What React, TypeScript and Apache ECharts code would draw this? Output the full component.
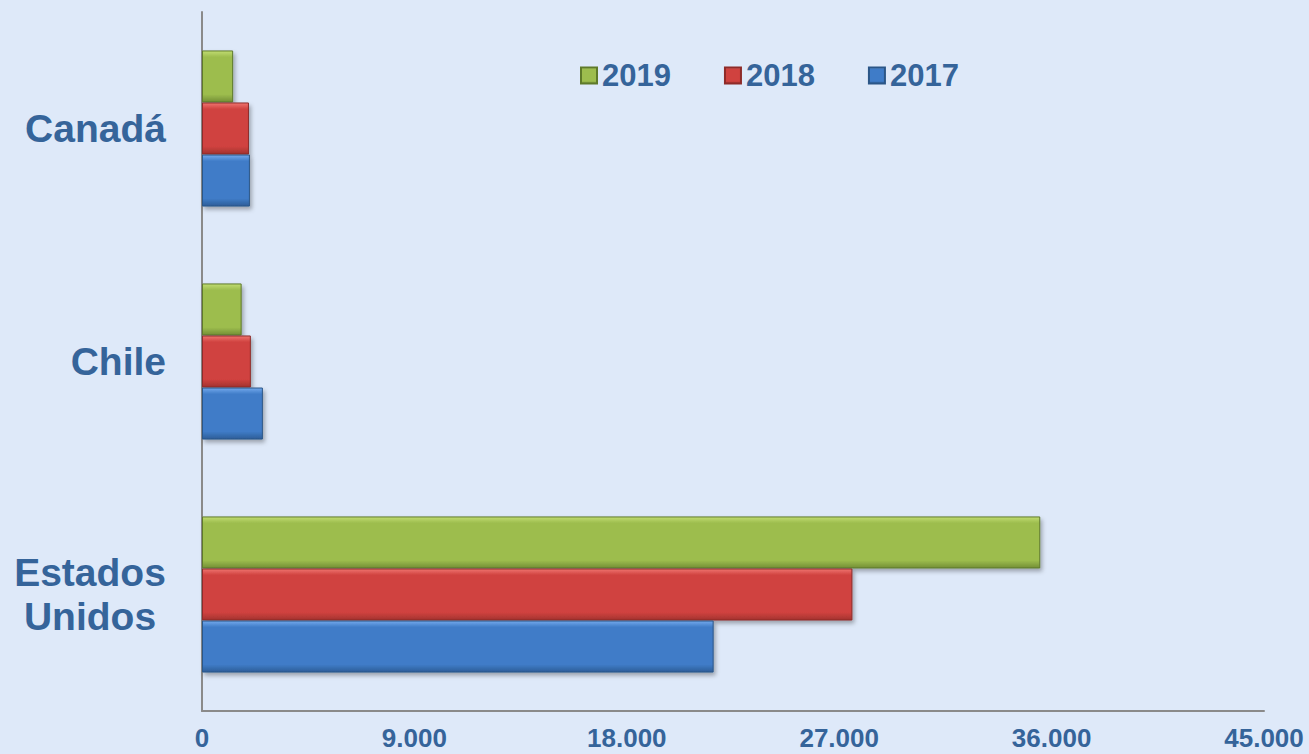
import React, { useEffect, useRef } from "react";
import * as echarts from "echarts";

const categories = ["Estados Unidos", "Chile", "Canadá"];
const seriesNames = ["2019", "2018", "2017"];
const values2019 = [35520, 1680, 1320];
const values2018 = [27560, 2070, 1990];
const values2017 = [21680, 2580, 2030];
const xTicks = { min: 0, max: 45000, interval: 9000 };
const legendOrder = ["2019", "2018", "2017"];

const textColor = "#35649A";

const grad = (top: string, mid: string, bot: string) =>
  new echarts.graphic.LinearGradient(0, 0, 0, 1, [
    { offset: 0, color: top },
    { offset: 0.12, color: mid },
    { offset: 0.85, color: mid },
    { offset: 1, color: bot },
  ]);

const styles = [
  { fill: grad("#c1dc72", "#9dbd4e", "#738f36"), border: "#5e7a2a" },
  { fill: grad("#ef7470", "#d0423f", "#a33330"), border: "#8e2b29" },
  { fill: grad("#73a9ec", "#3f7cc8", "#2e5e98"), border: "#2b5687" },
];

const seriesValues = [values2019, values2018, values2017];

export default function App() {
  const ref = useRef<HTMLDivElement>(null);
  useEffect(() => {
    if (!ref.current) return;
    const chart = echarts.init(ref.current, null, { renderer: "svg" });
    chart.setOption({
      animation: false,
      backgroundColor: "#DEE9F9",
      grid: { left: 202, right: 45, top: 12, bottom: 43, containLabel: false },
      legend: {
        data: legendOrder,
        left: 580,
        top: 60,
        padding: 0,
        itemWidth: 16,
        itemHeight: 16,
        itemGap: 53,
        icon: "rect",
        textStyle: {
          color: textColor,
          fontSize: 31,
          fontWeight: "bold",
          fontFamily: "Liberation Sans, Arial, sans-serif",
        },
      },
      xAxis: {
        type: "value",
        min: xTicks.min,
        max: xTicks.max,
        interval: xTicks.interval,
        splitLine: { show: false },
        axisTick: { show: false },
        axisLine: { show: true, lineStyle: { color: "#8a8a8a", width: 2 } },
        axisLabel: {
          margin: 14,
          color: textColor,
          fontSize: 26,
          fontWeight: "bold",
          fontFamily: "Liberation Sans, Arial, sans-serif",
          formatter: (v: number) =>
            String(v).replace(/\B(?=(\d{3})+(?!\d))/g, "."),
        },
      },
      yAxis: {
        type: "category",
        data: categories,
        axisTick: { show: false },
        axisLine: { show: true, lineStyle: { color: "#8a8a8a", width: 2 } },
        axisLabel: {
          margin: 36,
          color: textColor,
          fontSize: 39,
          fontWeight: "bold",
          fontFamily: "Liberation Sans, Arial, sans-serif",
          lineHeight: 44,
          formatter: (v: string) => {
            const parts = v.split(" ");
            if (parts.length > 1) return parts.map((p) => `{c|${p}}`).join("\n");
            return v;
          },
          rich: {
            c: {
              width: 152,
              align: "center",
              color: textColor,
              fontSize: 39,
              fontWeight: "bold",
              fontFamily: "Liberation Sans, Arial, sans-serif",
              lineHeight: 44,
            },
          },
        },
      },
      series: seriesNames.map((name, i) => ({
        name,
        type: "bar",
        data: seriesValues[i],
        barGap: "0%",
        barCategoryGap: "33%",
        itemStyle: {
          color: styles[i].fill,
          borderColor: styles[i].border,
          borderWidth: 1,
          shadowColor: "rgba(0,0,0,0.3)",
          shadowBlur: 4,
          shadowOffsetX: 2,
          shadowOffsetY: 3,
        },
      })),
    });
    return () => chart.dispose();
  }, []);
  return (
    <div
      ref={ref}
      style={{ position: "absolute", left: 0, top: 0, width: 1309, height: 754 }}
    />
  );
}
